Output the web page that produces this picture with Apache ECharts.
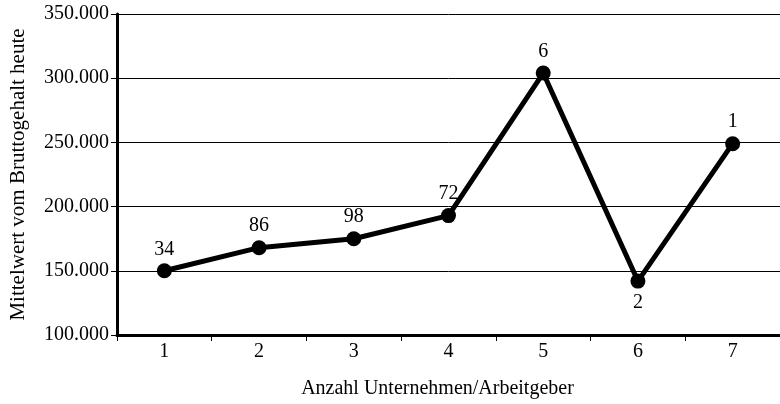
<!DOCTYPE html>
<html>
<head>
    <meta charset="utf-8">
    <title>ECharts</title>
    <script src="https://cdn.jsdelivr.net/npm/echarts@6/dist/echarts.min.js"></script>
</head>
<body style="margin:0">
    <div id="main" style="width: 780px;height:404px;"></div>
    <script type="text/javascript">
        // Anzahl Unternehmen/Arbeitgeber
        var categories = ['1', '2', '3', '4', '5', '6', '7'];
        // Mittelwert vom Bruttogehalt heute
        var values = [150000, 168000, 175000, 193000, 304000, 142000, 249000];
        // Fallzahl je Punkt (Beschriftung)
        var counts = ['34', '86', '98', '72', '6', '2', '1'];
        var labelBelow = [false, false, false, false, false, true, false];

        var serif = 'Liberation Serif';
        var myChart = echarts.init(document.getElementById('main'));

        var seriesData = values.map(function (v, i) {
            return {
                value: v,
                label: { position: labelBelow[i] ? 'bottom' : 'top', formatter: counts[i] }
            };
        });

        function fmt(v) {
            return String(v).replace(/\B(?=(\d{3})+(?!\d))/g, '.');
        }

        var option = {
            animation: false,
            backgroundColor: '#fff',
            grid: { left: 116, top: 14, width: 667, height: 325 },
            xAxis: {
                type: 'category',
                data: categories,
                boundaryGap: true,
                name: 'Anzahl Unternehmen/Arbeitgeber',
                nameLocation: 'middle',
                nameGap: 44,
                nameTextStyle: { fontFamily: serif, fontSize: 20, color: '#000', padding: [0, 22, 0, 0] },
                axisLine: { lineStyle: { color: '#000', width: 3 } },
                axisTick: { show: true, length: 6, lineStyle: { color: '#000', width: 1 } },
                axisLabel: { fontFamily: serif, fontSize: 20, color: '#000', margin: 7 }
            },
            yAxis: {
                type: 'value',
                min: 100000,
                max: 350000,
                interval: 50000,
                name: 'Mittelwert vom Bruttogehalt heute',
                nameLocation: 'middle',
                nameRotate: 90,
                nameGap: 88,
                nameTextStyle: { fontFamily: serif, fontSize: 21, color: '#000' },
                axisLine: { show: true, lineStyle: { color: '#000', width: 3 } },
                axisTick: { show: true, length: 6, lineStyle: { color: '#000', width: 1 } },
                axisLabel: { fontFamily: serif, fontSize: 20, color: '#000', margin: 8, formatter: fmt },
                splitLine: { show: true, lineStyle: { color: '#000', width: 1 } }
            },
            series: [{
                type: 'line',
                data: seriesData,
                symbol: 'circle',
                symbolSize: 15,
                itemStyle: { color: '#000' },
                lineStyle: { color: '#000', width: 5 },
                label: {
                    show: true,
                    distance: 4,
                    fontFamily: serif,
                    fontSize: 20,
                    color: '#000'
                }
            }]
        };
        myChart.setOption(option);
    </script>
</body>
</html>
